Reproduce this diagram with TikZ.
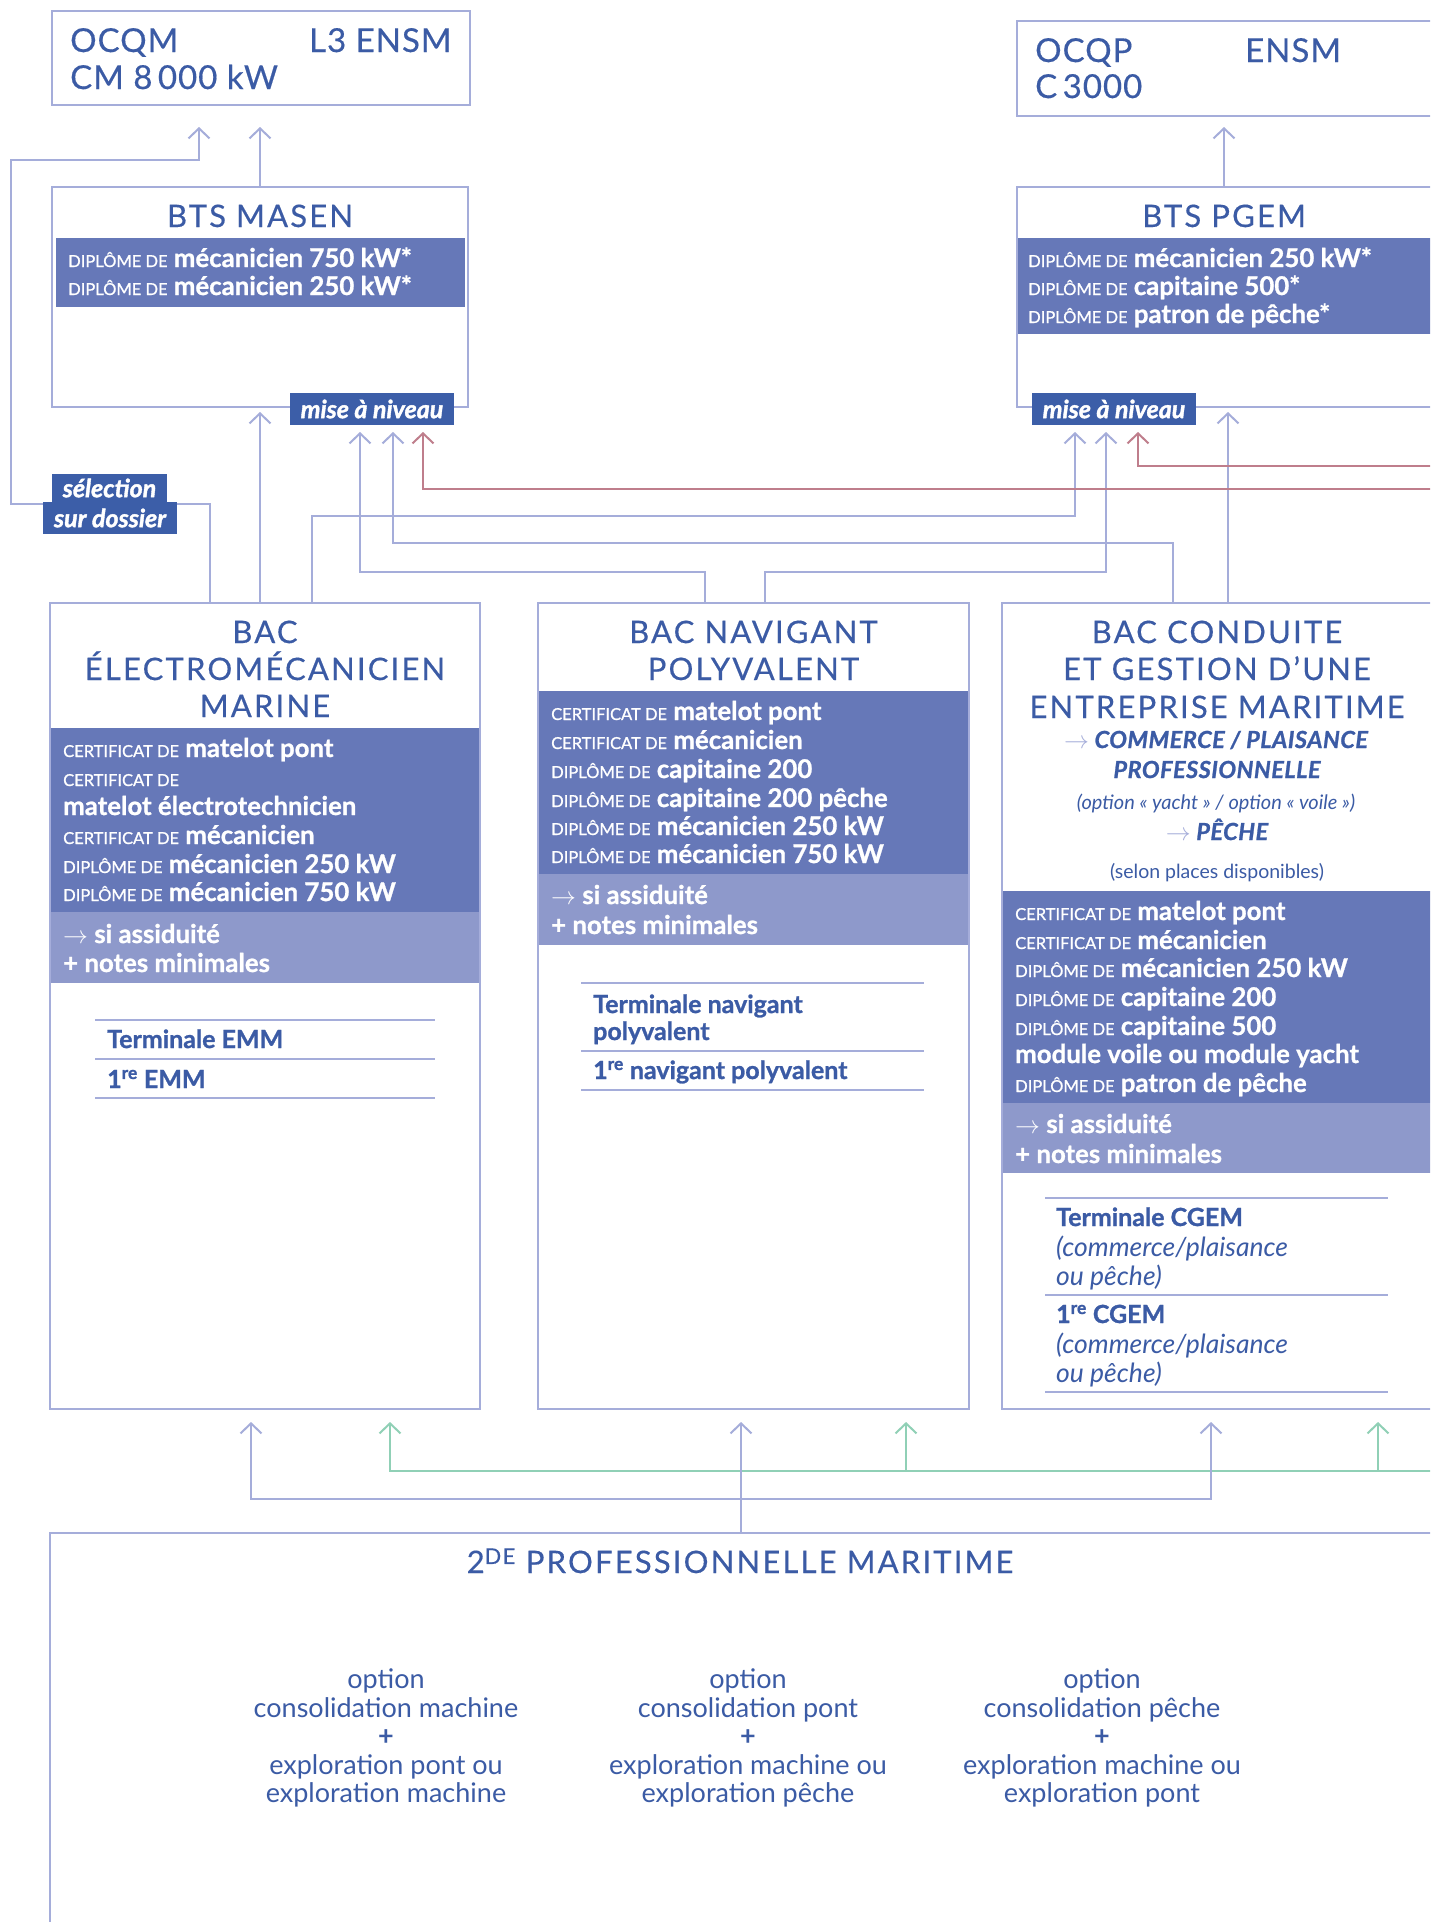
\documentclass[tikz,border=0pt]{standalone}
\usepackage{fontspec}
\setmainfont{Lato}
\usetikzlibrary{arrows.meta}
\definecolor{linec}{HTML}{A5ADDA}
\definecolor{textblue}{HTML}{3B5BA5}
\definecolor{darkband}{HTML}{6678B8}
\definecolor{lightband}{HTML}{8E99CB}
\definecolor{tagfill}{HTML}{3C5EA8}
\definecolor{redline}{HTML}{BF7E8C}
\definecolor{greenline}{HTML}{90D0B6}
\newcommand{\myfs}[1]{\fontsize{#1}{#1}\selectfont}
\newcommand{\pre}[1]{{\myfs{16.5}\mdseries #1}}
\newcommand{\rarr}{{\myfs{25}\mdseries$\rightarrow$}}
\tikzset{
  box/.style={draw=linec, line width=2.2pt, anchor=north west, inner sep=0pt, outer sep=0pt},
  conn/.style={draw=linec, line width=2pt},
  rconn/.style={draw=redline, line width=2pt},
  gconn/.style={draw=greenline, line width=2pt},
  arr/.style={-{Straight Barb[length=10pt,width=21pt]}},
  ttl/.style={text=textblue, font=\myfs{31}\addfontfeature{LetterSpace=7,FakeBold=0.4}, anchor=base, inner sep=0pt},
  big/.style={text=textblue, font=\myfs{33}\addfontfeature{LetterSpace=3,FakeBold=0.4}, anchor=base west, inner sep=0pt},
  wl/.style={text=white, font=\myfs{25.8}\bfseries\addfontfeature{FakeBold=1}, anchor=base west, inner sep=0pt},
  bl/.style={text=textblue, font=\myfs{25}\bfseries\addfontfeature{FakeBold=1}, anchor=base west, inner sep=0pt},
  il/.style={text=textblue, font=\myfs{26.5}\itshape, anchor=base west, inner sep=0pt},
  sub/.style={text=textblue, font=\myfs{23.5}\bfseries\itshape\addfontfeature{LetterSpace=2,FakeBold=1}, anchor=base, inner sep=0pt},
  small/.style={text=textblue, font=\myfs{19.5}, anchor=base, inner sep=0pt},
  tag/.style={fill=tagfill, text=white, font=\myfs{25}\bfseries\itshape\addfontfeature{FakeBold=1.5}, inner sep=0pt, anchor=center},
  sep/.style={draw=linec, line width=1.6pt},
  opt/.style={text=textblue, font=\fontsize{27}{28.6}\selectfont, align=center, anchor=center, inner sep=0pt},
}
\begin{document}
\begin{tikzpicture}[x=1pt,y=-1pt]
\useasboundingbox (0,0) rectangle (1430,1922);
\clip (0,0) rectangle (1430,1922);
\fill[white] (0,0) rectangle (1430,1922);

% bands
\fill[darkband] (56,238) rectangle (465,307);
\fill[darkband] (1018,238) rectangle (1440,334);
\fill[darkband] (51,728) rectangle (479,912);
\fill[lightband] (51,912) rectangle (479,983);
\fill[darkband] (539,691) rectangle (968,874);
\fill[lightband] (539,874) rectangle (968,945);
\fill[darkband] (1003,891) rectangle (1440,1103);
\fill[lightband] (1003,1103) rectangle (1440,1173);

% boxes
\node[box, minimum width=418pt, minimum height=94pt] (ocqm) at (52,11) {};
\node[box, minimum width=430pt, minimum height=95pt] (ocqp) at (1017,21) {};
\node[box, minimum width=416pt, minimum height=220pt] (masen) at (52,187) {};
\node[box, minimum width=430pt, minimum height=220pt] (pgem) at (1017,187) {};
\node[box, minimum width=430pt, minimum height=806pt] (emm) at (50,603) {};
\node[box, minimum width=431pt, minimum height=806pt] (nav) at (538,603) {};
\node[box, minimum width=440pt, minimum height=806pt] (cgem) at (1002,603) {};
\node[box, minimum width=1420pt, minimum height=420pt] (sec) at (50,1533) {};

% connector ports
\coordinate (ocqmA) at (199,127);
\coordinate (ocqmB) at (260,127);
\coordinate (masenT) at (260,187);
\coordinate (pgemT) at (1224,187);
\coordinate (ocqpA) at (1224,127);
\coordinate (masenB) at (260,412);
\coordinate (masenM1) at (360,432);
\coordinate (masenM2) at (393,432);
\coordinate (masenM3) at (423,432);
\coordinate (pgemB) at (1228,412);
\coordinate (pgemM1) at (1075,432);
\coordinate (pgemM2) at (1106,432);
\coordinate (pgemM3) at (1138,432);
\coordinate (emm1) at (210,603);
\coordinate (emm2) at (260,603);
\coordinate (emm3) at (312,603);
\coordinate (nav1) at (705,603);
\coordinate (nav2) at (765,603);
\coordinate (cg1) at (1173,603);
\coordinate (cg2) at (1228,603);
\coordinate (redA) at (1440,489);
\coordinate (redB) at (1440,466);
\coordinate (secT) at (741,1533);
\coordinate (emmB1) at (251,1422);
\coordinate (emmB2) at (390,1422);
\coordinate (navB1) at (741,1422);
\coordinate (navB2) at (906,1422);
\coordinate (cgB1) at (1211,1422);
\coordinate (cgB2) at (1378,1422);
\coordinate (grn) at (1440,1471);

% top connectors
\draw[conn,arr] (masenT) -- (ocqmB);
\draw[conn,arr] (pgemT) -- (ocqpA);
\draw[conn,arr] (emm1) -- (210,504) -- (11,504) -- (11,160) -- (199,160) -- (ocqmA);
\draw[conn,arr] (emm2) -- (masenB);
\draw[conn,arr] (emm3) |- (1075,516) -- (pgemM1);
\draw[conn,arr] (nav1) |- (360,572) -- (masenM1);
\draw[conn,arr] (nav2) |- (1106,572) -- (pgemM2);
\draw[conn,arr] (cg1) |- (393,543) -- (masenM2);
\draw[conn,arr] (cg2) -- (pgemB);
\draw[rconn,arr] (redA) -| (masenM3);
\draw[rconn,arr] (redB) -| (pgemM3);

% bottom connectors
\draw[gconn,arr] (grn) -| (emmB2);
\draw[gconn,arr] (906,1471) -- (navB2);
\draw[gconn,arr] (1378,1471) -- (cgB2);
\draw[conn,arr] (secT) -- (navB1);
\draw[conn,arr] (741,1499) -| (emmB1);
\draw[conn,arr] (741,1499) -| (cgB1);

% tags
\node[tag, minimum width=164pt, minimum height=32pt] (tagA) at (372,409) {mise à niveau};
\node[tag, minimum width=164pt, minimum height=32pt] (tagB) at (1114,409) {mise à niveau};
\node[tag, minimum width=115pt, minimum height=28pt] (sel1) at (109.5,488) {sélection};
\node[tag, minimum width=134pt, minimum height=32pt] (sel2) at (110,518) {sur dossier};

% OCQM / OCQP
\node[big] (t1) at (70,52) {OCQM};
\node[big] (t2) at (70,89) {CM 8\,000 kW};
\node[big] (t3) at (309,52) {L3 ENSM};
\node[big] (t4) at (1035,62) {OCQP};
\node[big] (t5) at (1035,98) {C\,3000};
\node[big] (t6) at (1245,62) {ENSM};

% BTS
\node[ttl] (bt1) at (260,227) {BTS MASEN};
\node[ttl] (bt2) at (1224,227) {BTS PGEM};
\node[wl] (ma1) at (68,267) {\pre{DIPLÔME DE} mécanicien 750 kW*};
\node[wl] (ma2) at (68,295) {\pre{DIPLÔME DE} mécanicien 250 kW*};
\node[wl] (pg1) at (1028,267) {\pre{DIPLÔME DE} mécanicien 250 kW*};
\node[wl] (pg2) at (1028,295) {\pre{DIPLÔME DE} capitaine 500*};
\node[wl] (pg3) at (1028,323) {\pre{DIPLÔME DE} patron de pêche*};

% BAC EMM
\node[ttl] (e1) at (265,643) {BAC};
\node[ttl] (e2) at (265,680) {ÉLECTROMÉCANICIEN};
\node[ttl] (e3) at (265,717) {MARINE};
\node[wl] (ea) at (63,757) {\pre{CERTIFICAT DE} matelot pont};
\node[wl] (eb) at (63,786) {\pre{CERTIFICAT DE}};
\node[wl] (ec) at (63,815) {matelot électrotechnicien};
\node[wl] (ed) at (63,844) {\pre{CERTIFICAT DE} mécanicien};
\node[wl] (ee) at (63,873) {\pre{DIPLÔME DE} mécanicien 250 kW};
\node[wl] (ef) at (63,901) {\pre{DIPLÔME DE} mécanicien 750 kW};
\node[wl] (eg) at (63,943) {\rarr{} si assiduité};
\node[wl] (eh) at (63,972) {+ notes minimales};
\draw[sep] (95,1020) -- (435,1020);
\draw[sep] (95,1059) -- (435,1059);
\draw[sep] (95,1098) -- (435,1098);
\node[bl] (ei) at (107,1048) {Terminale EMM};
\node[bl] (ej) at (107,1088) {1\textsuperscript{re} EMM};

% BAC NAV
\node[ttl] (n1) at (753.5,643) {BAC NAVIGANT};
\node[ttl] (n2) at (753.5,680) {POLYVALENT};
\node[wl] (na) at (551,720) {\pre{CERTIFICAT DE} matelot pont};
\node[wl] (nb) at (551,749) {\pre{CERTIFICAT DE} mécanicien};
\node[wl] (nc) at (551,778) {\pre{DIPLÔME DE} capitaine 200};
\node[wl] (nd) at (551,807) {\pre{DIPLÔME DE} capitaine 200 pêche};
\node[wl] (ne) at (551,835) {\pre{DIPLÔME DE} mécanicien 250 kW};
\node[wl] (nf) at (551,863) {\pre{DIPLÔME DE} mécanicien 750 kW};
\node[wl] (ng) at (551,904) {\rarr{} si assiduité};
\node[wl] (nh) at (551,934) {+ notes minimales};
\draw[sep] (581,983) -- (924,983);
\draw[sep] (581,1051) -- (924,1051);
\draw[sep] (581,1090) -- (924,1090);
\node[bl] (ni) at (593,1013) {Terminale navigant};
\node[bl] (nj) at (593,1040) {polyvalent};
\node[bl] (nk) at (593,1079) {1\textsuperscript{re} navigant polyvalent};

% BAC CGEM
\node[ttl] (c1) at (1217,643) {BAC CONDUITE};
\node[ttl] (c2) at (1217,680) {ET GESTION D’UNE};
\node[ttl] (c3) at (1217,718) {ENTREPRISE MARITIME};
\node[sub] (c4) at (1216,748) {{\color{linec}\rarr} COMMERCE / PLAISANCE};
\node[sub] (c5) at (1217,778) {PROFESSIONNELLE};
\node[small, font=\myfs{20}\itshape] (c6) at (1216,809) {(option «~yacht~» / option «~voile~»)};
\node[sub] (c7) at (1217,840) {{\color{linec}\rarr} PÊCHE};
\node[small] (c8) at (1217,878) {(selon places disponibles)};
\node[wl] (ca) at (1015,920) {\pre{CERTIFICAT DE} matelot pont};
\node[wl] (cb) at (1015,949) {\pre{CERTIFICAT DE} mécanicien};
\node[wl] (cc) at (1015,977) {\pre{DIPLÔME DE} mécanicien 250 kW};
\node[wl] (cd) at (1015,1006) {\pre{DIPLÔME DE} capitaine 200};
\node[wl] (ce) at (1015,1035) {\pre{DIPLÔME DE} capitaine 500};
\node[wl] (cf) at (1015,1063) {module voile ou module yacht};
\node[wl] (cg) at (1015,1092) {\pre{DIPLÔME DE} patron de pêche};
\node[wl] (ch) at (1015,1133) {\rarr{} si assiduité};
\node[wl] (ci) at (1015,1163) {+ notes minimales};
\draw[sep] (1045,1198) -- (1388,1198);
\draw[sep] (1045,1295) -- (1388,1295);
\draw[sep] (1045,1392) -- (1388,1392);
\node[bl] (cj) at (1056,1226) {Terminale CGEM};
\node[il] (ck) at (1056,1256) {(commerce/plaisance};
\node[il] (cl) at (1056,1285) {ou pêche)};
\node[bl] (cm) at (1056,1323) {1\textsuperscript{re} CGEM};
\node[il] (cn) at (1056,1353) {(commerce/plaisance};
\node[il] (co) at (1056,1382) {ou pêche)};

% 2de
\node[ttl] (s1) at (740,1573) {2\textsuperscript{DE} PROFESSIONNELLE MARITIME};
\node[opt] (o1) at (386,1738) {option\\consolidation machine\\\textbf{+}\\exploration pont ou\\exploration machine};
\node[opt] (o2) at (748,1738) {option\\consolidation pont\\\textbf{+}\\exploration machine ou\\exploration pêche};
\node[opt] (o3) at (1102,1738) {option\\consolidation pêche\\\textbf{+}\\exploration machine ou\\exploration pont};
\end{tikzpicture}
\end{document}
